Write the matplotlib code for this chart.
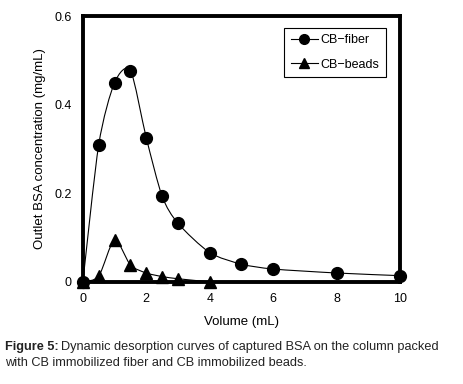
import numpy as np
import matplotlib
matplotlib.use("Agg")
import matplotlib.pyplot as plt
from matplotlib.path import Path
from matplotlib.patches import PathPatch
from matplotlib.lines import Line2D

plt.rcParams['font.family'] = ['Liberation Sans', 'DejaVu Sans']

# data
vol_fiber = [0, 0.5, 1, 1.5, 2, 2.5, 3, 4, 5, 6, 8, 10]
conc_fiber = [0.0, 0.31, 0.45, 0.477, 0.325, 0.193, 0.132, 0.066, 0.04, 0.029, 0.02, 0.014]
vol_beads = [0, 0.5, 1, 1.5, 2, 2.5, 3, 4]
conc_beads = [0.0, 0.013, 0.095, 0.038, 0.02, 0.012, 0.007, 0.0]
xticks = [0, 2, 4, 6, 8, 10]
yticks = [0, 0.2, 0.4, 0.6]
yticklabels = ['0', '0.2', '0.4', '0.6']


def smooth_path(x, y, t=0.13):
    # excel-like smoothed line as bezier segments through the points
    x = np.asarray(x, float)
    y = np.asarray(y, float)
    n = len(x)
    verts = [(x[0], y[0])]
    codes = [Path.MOVETO]
    for i in range(n - 1):
        x0, y0 = (x[i-1], y[i-1]) if i > 0 else (x[i], y[i])
        x3, y3 = (x[i+2], y[i+2]) if i + 2 < n else (x[i+1], y[i+1])
        c1 = (x[i] + (x[i+1] - x0) * t, y[i] + (y[i+1] - y0) * t)
        c2 = (x[i+1] - (x3 - x[i]) * t, y[i+1] - (y3 - y[i]) * t)
        verts += [c1, c2, (x[i+1], y[i+1])]
        codes += [Path.CURVE4] * 3
    return Path(verts, codes)


fig = plt.figure(figsize=(4.63, 3.84), dpi=100)
ax = fig.add_axes([0.179, 0.266, 0.685, 0.692])

for xs, ys, m in [(vol_fiber, conc_fiber, 'o'), (vol_beads, conc_beads, '^')]:
    ax.add_patch(PathPatch(smooth_path(xs, ys), fill=False, lw=0.8, ec='black', zorder=2))
    ax.plot(xs, ys, ls='none', marker=m, ms=8.5, color='black', zorder=3, clip_on=False)

ax.set_xlim(0, 10)
ax.set_ylim(0, 0.6)
ax.set_xticks(xticks)
ax.set_yticks(yticks)
ax.set_yticklabels(yticklabels)
ax.tick_params(length=0, labelsize=9, pad=8)
for s in ax.spines.values():
    s.set_linewidth(2.8)
ax.set_xlabel('Volume (mL)', fontsize=9.5, labelpad=8)
ax.set_ylabel('Outlet BSA concentration (mg/mL)', fontsize=9.5, labelpad=6)

handles = [Line2D([], [], color='black', lw=0.8, marker='o', ms=7),
           Line2D([], [], color='black', lw=0.8, marker='^', ms=7)]
leg = ax.legend(handles, ['CB\u2212fiber', 'CB\u2212beads'], loc='upper right',
                bbox_to_anchor=(0.955, 0.955), fancybox=False, edgecolor='black',
                framealpha=1, fontsize=9, handlelength=2.2, handletextpad=0.2,
                borderpad=0.5, labelspacing=1.0, borderaxespad=0)
leg.get_frame().set_linewidth(0.8)

# caption, bold prefix then normal text
r = fig.canvas.get_renderer()
t1 = fig.text(0.011, 0.088, 'Figure 5:', fontsize=9.2, fontweight='bold', color='#222222')
w = t1.get_window_extent(r).width / fig.bbox.width
fig.text(0.011 + w + 0.006, 0.088,
         'Dynamic desorption curves of captured BSA on the column packed',
         fontsize=9.2, color='#222222')
fig.text(0.011, 0.046, 'with CB immobilized fiber and CB immobilized beads.',
         fontsize=9.2, color='#222222')

fig.savefig('out.png', dpi=100)
